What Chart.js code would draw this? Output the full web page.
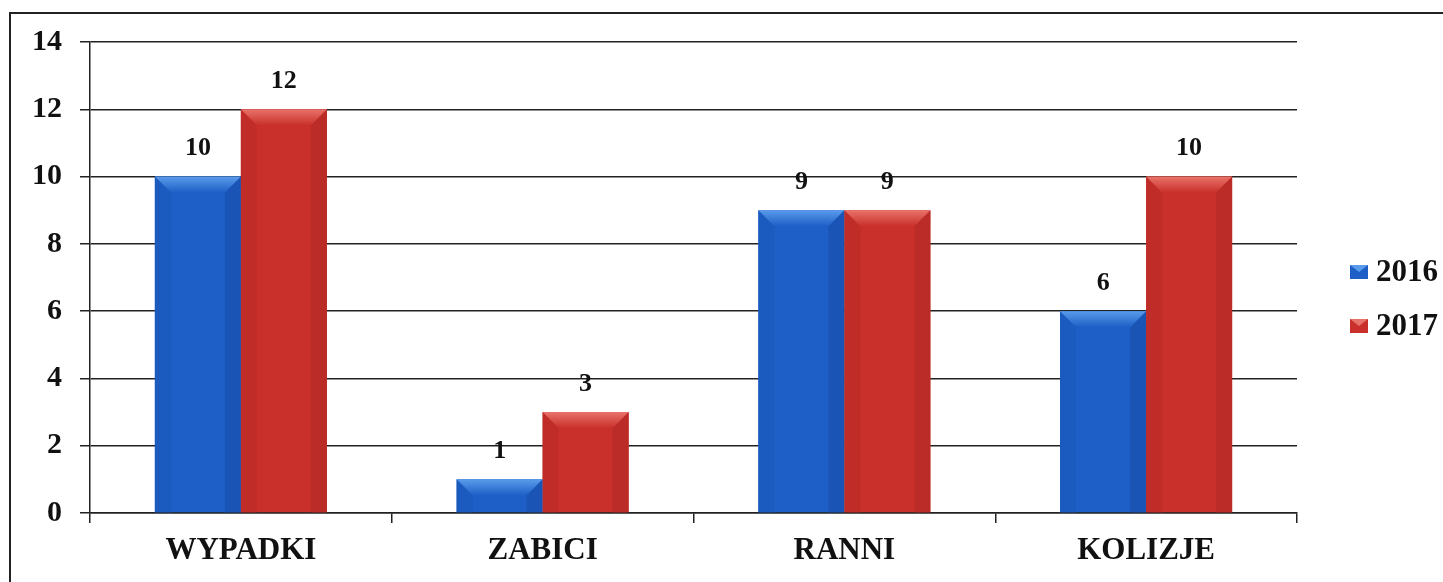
<!DOCTYPE html>
<html>
<head>
<meta charset="utf-8">
<script src="https://cdn.jsdelivr.net/npm/chart.js@4.4.1/dist/chart.umd.min.js"></script>
<style>
  html, body { margin: 0; padding: 0; background: #fff; overflow: hidden; }
  #wrap { position: relative; width: 1443px; height: 582px; }
  #frame { position: absolute; left: 9px; top: 12px; width: 1500px; height: 700px; border: 2px solid #222; box-sizing: border-box; }
  canvas { position: absolute; left: 0; top: 0; }
</style>
</head>
<body>
<div id="wrap">
  <div id="frame"></div>
  <canvas id="chart" width="1443" height="582"></canvas>
</div>
<script>
const categories = ['WYPADKI', 'ZABICI', 'RANNI', 'KOLIZJE'];
const values2016 = [10, 1, 9, 6];
const values2017 = [12, 3, 9, 10];
const yTicks = [0, 2, 4, 6, 8, 10, 12, 14];

const SERIF = '"Liberation Serif", "Times New Roman", serif';

// colours for each face of the bevelled bars
const shades = {
    '2016': { main: '#1d5fc6', top: '#5a9beb', left: '#1b5abe', right: '#1a55b6' },
    '2017': { main: '#c9302b', top: '#e8736a', left: '#c02d29', right: '#bb2c28' }
};

const bevelPlugin = {
    id: 'bevel',
    afterDatasetsDraw(chart) {
        const ctx = chart.ctx;
        chart.data.datasets.forEach((ds, i) => {
            const s = shades[ds.label];
            chart.getDatasetMeta(i).data.forEach(bar => {
                const l = bar.x - bar.width / 2, r = bar.x + bar.width / 2;
                const t = bar.y, b = bar.base;
                const bv = Math.min(16, (b - t) / 2);
                const poly = (pts, c) => {
                    ctx.beginPath();
                    ctx.moveTo(pts[0][0], pts[0][1]);
                    pts.slice(1).forEach(p => ctx.lineTo(p[0], p[1]));
                    ctx.closePath();
                    ctx.fillStyle = c;
                    ctx.fill();
                };
                ctx.save();
                poly([[l, t], [l + bv, t + bv], [l + bv, b], [l, b]], s.left);
                poly([[r, t], [r - bv, t + bv], [r - bv, b], [r, b]], s.right);
                const g = ctx.createLinearGradient(0, t, 0, t + bv);
                g.addColorStop(0, s.top);
                g.addColorStop(1, s.main);
                poly([[l, t], [r, t], [r - bv, t + bv], [l + bv, t + bv]], g);
                ctx.restore();
            });
        });
    }
};

const valueLabels = {
    id: 'valueLabels',
    afterDatasetsDraw(chart) {
        const ctx = chart.ctx;
        ctx.save();
        ctx.font = 'bold 26px ' + SERIF;
        ctx.fillStyle = '#111';
        ctx.textAlign = 'center';
        ctx.textBaseline = 'middle';
        chart.data.datasets.forEach((ds, i) => {
            chart.getDatasetMeta(i).data.forEach((bar, j) => {
                ctx.fillText(ds.data[j], bar.x, bar.y - 28);
            });
        });
        ctx.restore();
    }
};

const sideLegend = {
    id: 'sideLegend',
    afterDraw(chart) {
        const ctx = chart.ctx;
        const x0 = chart.chartArea.right + 53;
        const ys = [272, 326];
        ctx.save();
        ctx.font = 'bold 31px ' + SERIF;
        ctx.textBaseline = 'middle';
        chart.data.datasets.forEach((ds, i) => {
            const s = shades[ds.label];
            const y = ys[i];
            ctx.fillStyle = s.main;
            ctx.fillRect(x0, y - 7, 18, 14);
            ctx.fillStyle = s.top;
            ctx.beginPath();
            ctx.moveTo(x0, y - 7); ctx.lineTo(x0 + 18, y - 7); ctx.lineTo(x0 + 9, y);
            ctx.closePath(); ctx.fill();
            ctx.fillStyle = '#111';
            ctx.fillText(ds.label, x0 + 26, y + 1);
        });
        ctx.restore();
    }
};

new Chart(document.getElementById('chart'), {
    type: 'bar',
    data: {
        labels: categories,
        datasets: [
            { label: '2016', data: values2016, backgroundColor: shades['2016'].main },
            { label: '2017', data: values2017, backgroundColor: shades['2017'].main }
        ]
    },
    options: {
        responsive: false,
        animation: false,
        layout: { padding: { top: 42, right: 146, bottom: 0, left: 0 } },
        datasets: { bar: { barPercentage: 1, categoryPercentage: 0.57 } },
        plugins: { legend: { display: false }, tooltip: { enabled: false } },
        scales: {
            x: {
                grid: { drawOnChartArea: false, tickLength: 10, color: '#222', lineWidth: 1.5 },
                border: { color: '#222', width: 1.5 },
                ticks: { color: '#111', padding: 9, font: { family: SERIF, size: 31, weight: 'bold' } },
                afterFit: s => { s.height = 69; }
            },
            y: {
                min: 0, max: 14,
                afterBuildTicks: s => { s.ticks = yTicks.map(v => ({ value: v })); },
                grid: { color: '#222', lineWidth: 1.5, tickLength: 10 },
                border: { color: '#222', width: 1.5 },
                ticks: { color: '#111', padding: 18, font: { family: SERIF, size: 30, weight: 'bold' } },
                afterFit: s => { s.width = 90; }
            }
        }
    },
    plugins: [bevelPlugin, valueLabels, sideLegend]
});
</script>
</body>
</html>
